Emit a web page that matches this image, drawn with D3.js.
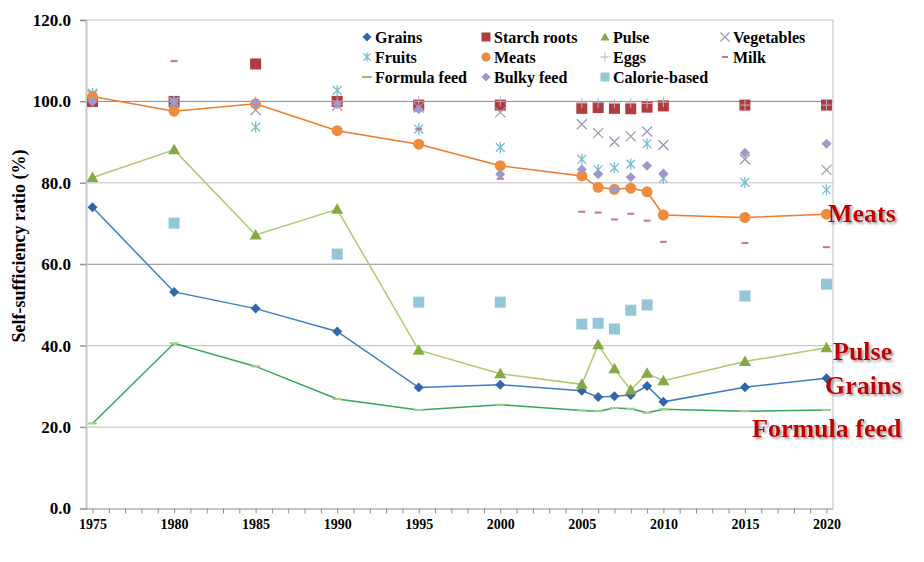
<!DOCTYPE html>
<html><head><meta charset="utf-8">
<script src="https://cdn.jsdelivr.net/npm/d3@7"></script>
<style>
html,body{margin:0;padding:0;background:#fff;}
svg{display:block;}
text{font-family:"Liberation Serif","Times New Roman",serif;font-weight:bold;}
</style></head>
<body>
<svg id="chart" width="924" height="562"></svg>
<script>
const years = [1975,1980,1985,1990,1995,2000,2005,2006,2007,2008,2009,2010,2015,2020];
const grains      = [74.0,53.2,49.1,43.5,29.7,30.4,28.9,27.4,27.6,27.9,30.1,26.2,29.8,32.0];
const starchRoots = [100.0,100.0,109.2,100.0,99.1,99.1,98.3,98.5,98.3,98.2,98.6,98.9,99.1,99.1];
const pulse       = [81.3,88.1,67.2,73.5,38.9,33.1,30.5,40.2,34.3,29.1,33.2,31.4,36.1,39.5];
const vegetables  = [101.6,99.6,97.9,99.0,98.5,97.3,94.4,92.2,90.1,91.4,92.6,89.3,85.8,83.2];
const fruits      = [102.0,100.0,93.7,102.7,93.2,88.7,85.8,83.2,83.7,84.6,89.6,81.1,80.1,78.3];
const meats       = [101.2,97.6,99.4,92.8,89.5,84.2,81.7,78.9,78.4,78.7,77.8,72.1,71.5,72.3];
const eggs        = [100.0,100.0,100.0,100.0,100.0,100.0,99.6,99.7,99.5,99.6,99.5,99.8,99.1,99.1];
const milk        = [100.0,109.9,100.0,100.0,93.2,81.0,72.9,72.7,71.0,72.4,70.7,65.5,65.2,64.2];
const formulaFeed = [20.9,40.6,34.9,26.9,24.2,25.5,24.1,23.9,24.7,24.5,23.5,24.4,23.9,24.2];
const bulkyFeed   = [100.0,100.0,99.6,99.3,98.1,82.1,83.3,82.1,78.4,81.4,84.2,82.3,87.4,89.6];
const calorieBased= [null,70.1,null,62.5,50.7,50.7,45.3,45.5,44.1,48.7,50.0,null,52.2,55.1];

const xTicks = [1975,1980,1985,1990,1995,2000,2005,2010,2015,2020];
const yTicks = [0,20,40,60,80,100,120];
const yTitle = "Self-sufficiency ratio (%)";

const series = [
  {name:"Grains", values:grains, shape:"diamond", color:"#2f66ad", line:"#3f7cc4", r:5},
  {name:"Starch roots", values:starchRoots, shape:"square", color:"#b23c3b", r:5.5},
  {name:"Pulse", values:pulse, shape:"triangle", color:"#86a845", line:"#a8cc6e", r:6},
  {name:"Vegetables", values:vegetables, shape:"x", color:"#9995b3", r:5},
  {name:"Fruits", values:fruits, shape:"asterisk", color:"#74bdd3", r:5.5},
  {name:"Meats", values:meats, shape:"circle", color:"#ef8b3c", line:"#f07a28", r:5.5},
  {name:"Eggs", values:eggs, shape:"plus", color:"#b5b0cc", r:5},
  {name:"Milk", values:milk, shape:"dash", color:"#c9739a", r:3.5},
  {name:"Formula feed", values:formulaFeed, shape:"dash", color:"#9fd08a", line:"#35a65a", r:4.5},
  {name:"Bulky feed", values:bulkyFeed, shape:"diamond", color:"#a098ca", r:5},
  {name:"Calorie-based", values:calorieBased, shape:"square", color:"#93c6d9", r:5.5}
];

const svg = d3.select("#chart");
const defs = svg.append("defs");
const f = defs.append("filter").attr("id", "shadow").attr("x", "-10%").attr("y", "-20%").attr("width", "130%").attr("height", "150%");
f.append("feDropShadow").attr("dx", 2).attr("dy", 2).attr("stdDeviation", 0.8)
  .attr("flood-color", "#808080").attr("flood-opacity", 0.75);

const x = d3.scaleLinear().domain([1974.6, 2020.4]).range([86, 833]);
const y = d3.scaleLinear().domain([0, 120]).range([508.5, 20]);

// gridlines
svg.append("g").selectAll("line").data(yTicks.filter(d=>d>0)).join("line")
  .attr("x1", 80).attr("x2", x.range()[1])
  .attr("y1", d=>y(d)).attr("y2", d=>y(d))
  .attr("stroke", d => (d===100||d===60) ? "#8c8c8c" : "#bdbdbd").attr("stroke-width", 1);

// right border
svg.append("line").attr("x1", x.range()[1]).attr("x2", x.range()[1])
  .attr("y1", y(120)).attr("y2", y(0)).attr("stroke", "#bdbdbd");

// left axis
const yAxis = d3.axisLeft(y).tickValues(yTicks).tickSize(6).tickFormat(d3.format(".1f"));
const gy = svg.append("g").attr("transform", "translate(86,0)").call(yAxis);
gy.select(".domain").attr("stroke", "#c8c8c8").attr("stroke-width", 2);
gy.selectAll(".tick line").attr("stroke", "#8c8c8c");
gy.selectAll(".tick text").attr("x", -15).attr("font-size", 17)
  .attr("font-family", '"Liberation Serif","Times New Roman",serif').attr("font-weight", "bold").attr("fill", "#000");

// bottom axis
const xAxis = d3.axisBottom(x).tickValues(d3.range(1975, 2021)).tickSize(5)
  .tickFormat(d => xTicks.includes(d) ? d : "");
const gx = svg.append("g").attr("transform", `translate(0,${y(0)})`).call(xAxis);
gx.select(".domain").attr("stroke", "#8c8c8c").attr("d", `M${x.range()[0]},0.5H${x.range()[1]}`);
gx.selectAll(".tick line").attr("stroke", "#8c8c8c");
gx.selectAll(".tick text").attr("y", 11).attr("font-size", 14)
  .attr("font-family", '"Liberation Serif","Times New Roman",serif').attr("font-weight", "bold").attr("fill", "#000");

// y title
svg.append("text").attr("transform", "translate(25,246) rotate(-90)")
  .attr("text-anchor", "middle").attr("font-size", 18).attr("fill", "#000").text(yTitle);

function drawMarker(g, shape, cx, cy, r, color) {
  switch (shape) {
    case "diamond":
      g.append("path").attr("d", `M${cx},${cy-r}L${cx+r},${cy}L${cx},${cy+r}L${cx-r},${cy}Z`).attr("fill", color); break;
    case "square":
      g.append("rect").attr("x", cx-r).attr("y", cy-r).attr("width", 2*r).attr("height", 2*r).attr("fill", color); break;
    case "triangle":
      g.append("path").attr("d", `M${cx},${cy-r}L${cx+r},${cy+r*0.75}L${cx-r},${cy+r*0.75}Z`).attr("fill", color); break;
    case "circle":
      g.append("circle").attr("cx", cx).attr("cy", cy).attr("r", r).attr("fill", color); break;
    case "x":
      g.append("path").attr("d", `M${cx-r},${cy-r}L${cx+r},${cy+r}M${cx-r},${cy+r}L${cx+r},${cy-r}`)
        .attr("stroke", color).attr("stroke-width", 1.2).attr("fill", "none"); break;
    case "asterisk":
      g.append("path").attr("d", `M${cx-r*0.8},${cy-r*0.8}L${cx+r*0.8},${cy+r*0.8}M${cx-r*0.8},${cy+r*0.8}L${cx+r*0.8},${cy-r*0.8}M${cx},${cy-r}L${cx},${cy+r}`)
        .attr("stroke", color).attr("stroke-width", 1.3).attr("fill", "none"); break;
    case "plus":
      g.append("path").attr("d", `M${cx-r},${cy}L${cx+r},${cy}M${cx},${cy-r}L${cx},${cy+r}`)
        .attr("stroke", color).attr("stroke-width", 1).attr("fill", "none"); break;
    case "dash":
      g.append("rect").attr("x", cx-r).attr("y", cy-1).attr("width", 2*r).attr("height", 2).attr("fill", color); break;
  }
}

const plot = svg.append("g");
series.forEach(s => {
  const pts = years.map((yr,i) => ({yr, v:s.values[i]})).filter(d => d.v != null);
  if (s.line) {
    plot.append("path").datum(pts)
      .attr("d", d3.line().x(d=>x(d.yr)).y(d=>y(d.v)))
      .attr("fill", "none").attr("stroke", s.line).attr("stroke-width", 1.5);
  }
  const g = plot.append("g");
  pts.forEach(d => drawMarker(g, s.shape, x(d.yr), y(d.v), s.r, s.color));
});

// legend
const legX = [367, 486, 605, 725];
const legY = [37, 57, 77];
const leg = svg.append("g");
series.forEach((s, i) => {
  const cx = legX[i % 4], cy = legY[Math.floor(i / 4)];
  const lr = s.shape === "dash" ? (s.name === "Milk" ? 3 : 5) : 4.5;
  drawMarker(leg, s.shape, cx, cy, lr, s.name === "Formula feed" ? "#a9b37a" : s.color);
  leg.append("text").attr("x", cx + 8).attr("y", cy + 5.5).attr("font-size", 16).attr("fill", "#000").text(s.name);
});

// annotations
const notes = [
  {t:"Meats", x:828, y:222},
  {t:"Pulse", x:833, y:360},
  {t:"Grains", x:825, y:394},
  {t:"Formula feed", x:752, y:437}
];
const ann = svg.append("g");
notes.forEach(n => {
  ann.append("text").attr("x", n.x).attr("y", n.y).attr("font-size", 26)
    .attr("fill", "#c00000").attr("filter", "url(#shadow)").text(n.t);
});
</script>
</body></html>
